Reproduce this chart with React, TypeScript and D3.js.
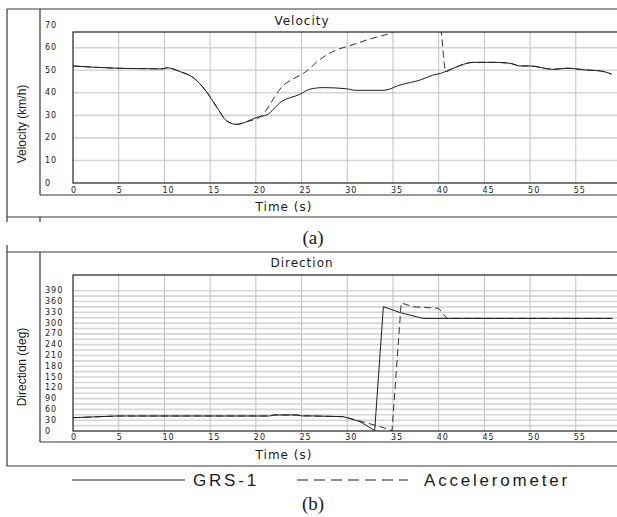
import React from "react";
import * as d3 from "d3";

// ---------- data ----------
const velTimeGRS = [0, 2, 4.8, 8, 9.8, 10.3, 11.7, 13.2, 14.6, 15.7, 16.8, 17.9, 19, 20.1, 21.2, 22.8, 24.8, 25.9, 27.4, 29.9, 30.9, 34, 35.8, 38, 39.4, 40.2, 41.6, 43.8, 46, 47.8, 48.9, 50, 52.5, 54, 56.2, 57.7, 58.9];
const velGRS = [51.9, 51.4, 50.9, 50.7, 50.6, 51.1, 49.4, 46.6, 40.5, 33.8, 27.6, 26.0, 27.2, 29.1, 30.2, 36.1, 39.3, 41.6, 42.3, 41.8, 41.1, 41.1, 43.5, 45.7, 47.9, 48.6, 50.9, 53.5, 53.5, 53.1, 51.9, 51.9, 50.4, 50.9, 50.1, 49.7, 48.3];

const velTimeAcc = [0, 2, 4.8, 8, 9.8, 10.3, 11.7, 13.2, 14.6, 15.7, 16.8, 17.9, 19, 20.5, 22.8, 25.7, 26.7, 28.8, 30.3, 32.1, 34.9, 36, 38, 40, 40.8, 41.6, 43.8, 46, 47.8, 48.9, 50, 52.5, 54, 56.2, 57.7, 58.9];
const velAcc = [51.9, 51.4, 50.9, 50.7, 50.6, 51.1, 49.4, 46.6, 40.5, 33.8, 27.6, 26.0, 27.2, 29.4, 42.4, 50.1, 53.8, 59, 60.9, 63.4, 66.8, 69, 73, 75, 49.4, 50.9, 53.5, 53.5, 53.1, 51.9, 51.9, 50.4, 50.9, 50.1, 49.7, 48.3];

const dirTimeGRS = [0, 4.8, 21.5, 22, 24.5, 25, 26, 29.6, 31.4, 33.0, 33.95, 35.8, 38.3, 59];
const dirGRS = [37, 41.7, 41.7, 44.5, 44.5, 42, 42, 39.8, 26, 1, 345.6, 329, 313, 313];

const dirTimeAcc = [0, 4.8, 21.5, 22, 24.5, 25, 26, 29.6, 30.3, 33.6, 34.9, 35.9, 37.2, 40.0, 40.9, 59];
const dirAcc = [37, 41.7, 41.7, 44.5, 44.5, 42, 42, 39.8, 35.3, 12, 1, 356, 345.6, 341, 313, 313];

const xTicks = [0, 5, 10, 15, 20, 25, 30, 35, 40, 45, 50, 55];
const velTicks = [0, 10, 20, 30, 40, 50, 60, 70];
const dirTicks = [0, 30, 60, 90, 120, 150, 180, 210, 240, 270, 300, 330, 360, 390];
const dirGrid = d3.range(15, 391, 15);

const seriesNames = ["GRS-1", "Accelerometer"];

// ---------- layout ----------
const W = 617, H = 517;
const PLOT_L = 73, PLOT_R = 621.5;
const x = d3.scaleLinear().domain([0, 60]).range([PLOT_L, PLOT_R]);

type Panel = {
  id: string; title: string; ylabel: string;
  outerTop: number; leftTop: number; leftBottom: number; innerBottom: number; outerBottom: number;
  plotTop: number; plotBottom: number; titleY: number; xlabY: number; ylabY: number; tickY: number;
  y: d3.ScaleLinear<number, number>; ticks: number[]; grid: number[];
  a: [number[], number[]]; b: [number[], number[]]; curve: d3.CurveFactory; extraTicks: boolean;
};

const panels: Panel[] = [
  {
    id: "vel", title: "Velocity", ylabel: "Velocity (km/h)",
    outerTop: 9, leftTop: 9, leftBottom: 222, innerBottom: 195, outerBottom: 217,
    plotTop: 32, plotBottom: 183, titleY: 21, xlabY: 207, ylabY: 124, tickY: 190,
    y: d3.scaleLinear().domain([0, 70]).range([183, 183 - 70 * 2.255]),
    ticks: velTicks, grid: [10, 20, 30, 40, 50, 60],
    a: [velTimeGRS, velGRS], b: [velTimeAcc, velAcc], curve: d3.curveMonotoneX, extraTicks: true,
  },
  {
    id: "dir", title: "Direction", ylabel: "Direction (deg)",
    outerTop: 252, leftTop: 245, leftBottom: 466, innerBottom: 442, outerBottom: 466,
    plotTop: 275, plotBottom: 431, titleY: 263, xlabY: 455, ylabY: 367, tickY: 437,
    y: d3.scaleLinear().domain([0, 390]).range([431, 290.7]),
    ticks: dirTicks, grid: dirGrid,
    a: [dirTimeGRS, dirGRS], b: [dirTimeAcc, dirAcc], curve: d3.curveLinear, extraTicks: false,
  },
];

const FRAME = "#3a3a3a";
const LINE = "#1e1e1e";
const TXT = "#1a1a1a";
const tickFont = { fontFamily: "DejaVu Sans", fontSize: 8, letterSpacing: 1 } as const;

function PanelView({ p }: { p: Panel }) {
  const mk = (ts: number[], vs: number[]) =>
    d3.line<number>().x((_, i) => x(ts[i])).y((v) => p.y(v)).curve(p.curve)(vs) || "";
  const clipId = "clip-" + p.id;
  return (
    <g>
      <defs>
        <clipPath id={clipId}>
          <rect x={PLOT_L} y={p.plotTop} width={PLOT_R - PLOT_L} height={p.plotBottom - p.plotTop} />
        </clipPath>
      </defs>
      {/* outer frames */}
      <line x1={7} x2={W} y1={p.outerTop} y2={p.outerTop} stroke={FRAME} strokeWidth={1.2} />
      <line x1={7} x2={7} y1={p.leftTop} y2={p.leftBottom} stroke={FRAME} strokeWidth={1.2} />
      <line x1={40} x2={40} y1={p.outerTop} y2={p.innerBottom} stroke={FRAME} strokeWidth={1.2} />
      <line x1={40} x2={W} y1={p.innerBottom} y2={p.innerBottom} stroke={FRAME} strokeWidth={1.2} />
      <line x1={7} x2={W} y1={p.outerBottom} y2={p.outerBottom} stroke={FRAME} strokeWidth={1.2} />
      {p.extraTicks && <line x1={40} x2={40} y1={p.outerBottom} y2={p.leftBottom} stroke={FRAME} strokeWidth={1.2} />}

      {/* grid */}
      {p.grid.map((g) => (
        <line key={"h" + g} x1={PLOT_L} x2={PLOT_R} y1={p.y(g)} y2={p.y(g)} stroke="#d6d6d6" strokeWidth={1.6} />
      ))}
      {xTicks.filter((t) => t > 0).map((t) => (
        <line key={"v" + t} x1={x(t)} x2={x(t)} y1={p.plotTop} y2={p.plotBottom} stroke="#c2c2c2" strokeWidth={1} />
      ))}

      {/* data */}
      <g clipPath={`url(#${clipId})`}>
        <path d={mk(p.b[0], p.b[1])} fill="none" stroke="#333" strokeWidth={1} strokeDasharray="7,4" />
        <path d={mk(p.a[0], p.a[1])} fill="none" stroke={LINE} strokeWidth={1} />
      </g>

      {/* plot frame */}
      <rect x={PLOT_L} y={p.plotTop} width={PLOT_R - PLOT_L} height={p.plotBottom - p.plotTop} fill="none" stroke="#222" strokeWidth={1.2} />

      {/* tick labels */}
      {p.ticks.map((t) => (
        <text key={"yt" + t} x={45} y={p.y(t)} dominantBaseline="central" fill={TXT} {...tickFont}>{t}</text>
      ))}
      {xTicks.map((t) => (
        <text key={"xt" + t} x={x(t) - 2} y={p.tickY} dominantBaseline="central" fill={TXT} {...tickFont}>{t}</text>
      ))}

      {/* titles */}
      <text x={302} y={p.titleY} textAnchor="middle" dominantBaseline="central" fill={TXT}
        fontFamily="DejaVu Sans" fontSize={12} letterSpacing={1}>{p.title}</text>
      <text x={284} y={p.xlabY} textAnchor="middle" dominantBaseline="central" fill={TXT}
        fontFamily="DejaVu Sans" fontSize={12} letterSpacing={1}>Time (s)</text>
      <text transform={`translate(22,${p.ylabY}) rotate(-90)`} textAnchor="middle" dominantBaseline="central" fill={TXT}
        fontFamily="Liberation Sans" fontSize={12}>{p.ylabel}</text>
    </g>
  );
}

export default function App() {
  return (
    <svg width={W} height={H} viewBox={`0 0 ${W} ${H}`}
      style={{ position: "absolute", left: 0, top: 0, background: "#fff" }}>
      <rect x={0} y={0} width={W} height={H} fill="#fff" />
      {panels.map((p) => <PanelView key={p.id} p={p} />)}

      <text x={313} y={237} textAnchor="middle" dominantBaseline="central" fill={TXT}
        fontFamily="Liberation Serif" fontSize={19}>(a)</text>

      {/* legend */}
      <line x1={72} x2={185} y1={480} y2={480} stroke={LINE} strokeWidth={1.2} />
      <text x={193} y={480} dominantBaseline="central" fill={TXT}
        fontFamily="Liberation Sans" fontSize={17} letterSpacing={2.8}>{seriesNames[0]}</text>
      <line x1={297} x2={408} y1={480} y2={480} stroke={LINE} strokeWidth={1.2} strokeDasharray="11,6" />
      <text x={424} y={480} dominantBaseline="central" fill={TXT}
        fontFamily="Liberation Sans" fontSize={17} letterSpacing={2.8}>{seriesNames[1]}</text>

      <text x={313} y={503} textAnchor="middle" dominantBaseline="central" fill={TXT}
        fontFamily="Liberation Serif" fontSize={19}>(b)</text>
    </svg>
  );
}
